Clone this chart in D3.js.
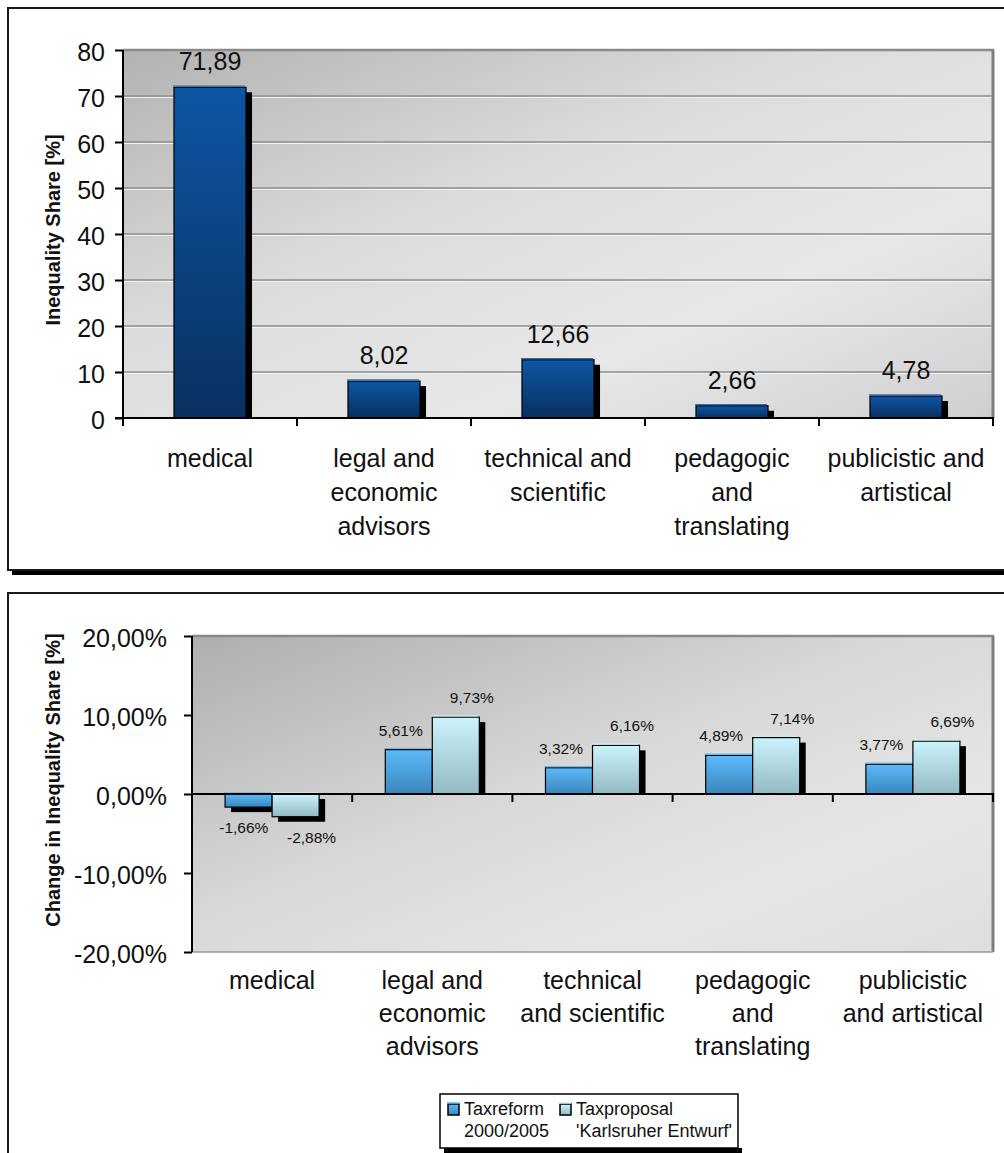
<!DOCTYPE html>
<html><head><meta charset="utf-8">
<script src="https://cdn.jsdelivr.net/npm/d3@7"></script>
<style>body{margin:0;background:#fff}svg{display:block;font-family:"Liberation Sans",Arial,sans-serif}</style>
</head><body>
<svg id="c" width="1004" height="1153"></svg>
<script>
// ---------- data ----------
const categories = ["medical","legal and economic advisors","technical and scientific","pedagogic and translating","publicistic and artistical"];
const topLabelLines = [["medical"],["legal and","economic","advisors"],["technical and","scientific"],["pedagogic","and","translating"],["publicistic and","artistical"]];
const bottomLabelLines = [["medical"],["legal and","economic","advisors"],["technical","and scientific"],["pedagogic","and","translating"],["publicistic","and artistical"]];
const inequalityShare = [71.89, 8.02, 12.66, 2.66, 4.78];
const seriesNames = ["Taxreform", "Taxproposal"];
const seriesNames2 = ["2000/2005", "'Karlsruher Entwurf'"];
const taxreform = [-1.66, 5.61, 3.32, 4.89, 3.77];
const taxproposal = [-2.88, 9.73, 6.16, 7.14, 6.69];
const topTicks = [0,10,20,30,40,50,60,70,80];
const bottomTicks = [-20,-10,0,10,20];
const topTitle = "Inequality Share [%]";
const bottomTitle = "Change in Inequality Share [%]";

const svg = d3.select("#c");
const defs = svg.append("defs");
function vgrad(id, c1, c2){
  const g = defs.append("linearGradient").attr("id",id).attr("x1",0).attr("y1",0).attr("x2",0).attr("y2",1);
  g.append("stop").attr("offset","0%").attr("stop-color",c1);
  g.append("stop").attr("offset","100%").attr("stop-color",c2);
}
vgrad("gTop","#0d56a3","#093060");
vgrad("gBlue","#5cbaf8","#3b86bd");
vgrad("gTeal","#ccf3fc","#93b9c1");
function bg(id, stops){
  const g = defs.append("linearGradient").attr("id",id).attr("x1",0).attr("y1",0).attr("x2",1).attr("y2",1);
  stops.forEach(s=>g.append("stop").attr("offset",s[0]).attr("stop-color",s[1]));
}
bg("bgTop",[["0%","#b2b2b2"],["40%","#dcdcdc"],["70%","#e8e8e8"],["100%","#cfcfcf"]]);
bg("bgBot",[["0%","#aeaeae"],["45%","#d8d8d8"],["75%","#e6e6e6"],["100%","#dedede"]]);

const loc = d3.formatLocale({decimal:",", thousands:".", grouping:[3], currency:["","€"], minus:"-"});
const f2 = loc.format(".2f");
const fmtTop = d => f2(d);
const fmtPct = d => f2(d) + "%";

// ---------- frames ----------
svg.append("rect").attr("x",12).attr("y",571).attr("width",1000).attr("height",4).attr("fill","#000");
svg.append("rect").attr("x",8).attr("y",8).attr("width",1010).attr("height",562).attr("fill","#fff").attr("stroke","#1a1a1a").attr("stroke-width",2);
svg.append("rect").attr("x",8).attr("y",593).attr("width",1010).attr("height",600).attr("fill","#fff").attr("stroke","#1a1a1a").attr("stroke-width",2);

// ---------- TOP CHART ----------
{
  const L=123,R=993,T=50,B=418;
  const y = d3.scaleLinear().domain([0,80]).range([B,T]);
  const xCat = d3.scaleBand().domain(categories).range([L,R]);
  const xBar = d3.scaleBand().domain(categories).range([L,R]).paddingInner(0.586).paddingOuter(0.293);
  const g = svg.append("g");
  g.append("rect").attr("x",L).attr("y",T).attr("width",R-L).attr("height",B-T).attr("fill","url(#bgTop)");
  g.selectAll(".gl").data(topTicks.filter(d=>d>0)).join("line")
    .attr("x1",L).attr("x2",R).attr("y1",d=>y(d)).attr("y2",d=>y(d)).attr("stroke","#8e8e8e").attr("stroke-width",1.5);
  g.selectAll(".gl2").data(topTicks.filter(d=>d>0&&d<80)).join("line")
    .attr("x1",L).attr("x2",R).attr("y1",d=>y(d)+1.5).attr("y2",d=>y(d)+1.5).attr("stroke","#f2f2f2").attr("stroke-width",1);
  g.append("line").attr("x1",L).attr("x2",R+1).attr("y1",T).attr("y2",T).attr("stroke","#8a8a8a").attr("stroke-width",2.5);
  g.append("line").attr("x1",R).attr("x2",R).attr("y1",T).attr("y2",B).attr("stroke","#7e7e7e").attr("stroke-width",3);
  const dx=6, dy=5;
  g.selectAll(".sh").data(inequalityShare).join("rect")
    .attr("x",(d,i)=>xBar(categories[i])+dx).attr("y",d=>y(d)+dy)
    .attr("width",xBar.bandwidth()).attr("height",d=>y(0)-y(d)-dy).attr("fill","#000");
  g.selectAll(".bar").data(inequalityShare).join("rect")
    .attr("x",(d,i)=>xBar(categories[i])).attr("y",d=>y(d))
    .attr("width",xBar.bandwidth()).attr("height",d=>y(0)-y(d))
    .attr("fill","url(#gTop)").attr("stroke","#000").attr("stroke-width",1.2);
  g.selectAll(".hl").data(inequalityShare).join("line")
    .attr("x1",(d,i)=>xBar(categories[i])-1).attr("x2",(d,i)=>xBar(categories[i])+xBar.bandwidth()-1)
    .attr("y1",d=>y(d)-1.2).attr("y2",d=>y(d)-1.2).attr("stroke","#2a6fc0").attr("stroke-width",1.2);
  g.selectAll(".vl").data(inequalityShare).join("text")
    .attr("x",(d,i)=>xBar(categories[i])+xBar.bandwidth()/2).attr("y",d=>y(d)-17)
    .attr("text-anchor","middle").attr("font-size",25).attr("fill","#111").text(fmtTop);
  const ya = d3.axisLeft(y).tickValues(topTicks).tickSize(8).tickFormat(d=>d);
  const yg = g.append("g").attr("transform",`translate(${L},0)`).call(ya);
  yg.select(".domain").attr("stroke","#000").attr("stroke-width",2).attr("d",`M0,${T}V${B}`);
  yg.selectAll(".tick line").attr("stroke","#000").attr("stroke-width",2);
  yg.selectAll(".tick text").attr("font-size",25).attr("fill","#111").attr("x",-18).attr("dy",null).attr("y",10.5).attr("font-family","Liberation Sans, Arial");
  g.append("line").attr("x1",L-8).attr("x2",R+1).attr("y1",B).attr("y2",B).attr("stroke","#000").attr("stroke-width",2);
  const tickXs = categories.map(c=>xCat(c)).concat([R]);
  g.selectAll(".xt").data(tickXs).join("line").attr("x1",d=>d).attr("x2",d=>d).attr("y1",B).attr("y2",B+8).attr("stroke","#000").attr("stroke-width",2);
  categories.forEach((c,i)=>{
    const t = g.append("text").attr("text-anchor","middle").attr("font-size",25).attr("fill","#111");
    topLabelLines[i].forEach((ln,j)=>t.append("tspan").attr("x",xCat(c)+xCat.bandwidth()/2).attr("y",467+j*34).text(ln));
  });
  g.append("text").attr("transform",`translate(60,230) rotate(-90)`).attr("text-anchor","middle")
    .attr("font-size",20).attr("font-weight","bold").attr("fill","#111").text(topTitle);
}

// ---------- BOTTOM CHART ----------
{
  const L=192,R=993,T=636,B=952;
  const y = d3.scaleLinear().domain([-20,20]).range([B,T]);
  const xCat = d3.scaleBand().domain(categories).range([L,R]);
  const xGrp = d3.scaleBand().domain(categories).range([L,R]).paddingInner(0.413).paddingOuter(0.2065);
  const xSer = d3.scaleBand().domain([0,1]).range([0,xGrp.bandwidth()]);
  const g = svg.append("g");
  g.append("rect").attr("x",L).attr("y",T).attr("width",R-L).attr("height",B-T).attr("fill","url(#bgBot)");
  g.append("line").attr("x1",L).attr("x2",R+1).attr("y1",T).attr("y2",T).attr("stroke","#8a8a8a").attr("stroke-width",2.5);
  g.append("line").attr("x1",R).attr("x2",R).attr("y1",T).attr("y2",B).attr("stroke","#7e7e7e").attr("stroke-width",3);
  g.append("line").attr("x1",L).attr("x2",R).attr("y1",B).attr("y2",B).attr("stroke","#9a9a9a").attr("stroke-width",1.5);

  const data = [];
  categories.forEach((c,i)=>{
    data.push({c, s:0, v:taxreform[i]});
    data.push({c, s:1, v:taxproposal[i]});
  });
  const fills = ["url(#gBlue)","url(#gTeal)"];
  const hls = ["#5cbaf8","#c6eef8"];
  const dx=6, dy=5;
  const bx = d => xGrp(d.c)+xSer(d.s);
  const bw = xSer.bandwidth();
  [0,1].forEach(s=>{
    const ds = data.filter(d=>d.s===s);
    g.selectAll(".sh"+s).data(ds).join("rect")
      .attr("x",d=>bx(d)+dx)
      .attr("y",d=>d.v>=0 ? y(d.v)+dy : y(0)+dy)
      .attr("width",bw)
      .attr("height",d=>d.v>=0 ? y(0)-y(d.v)-dy : y(d.v)-y(0))
      .attr("fill","#000");
    g.selectAll(".bar"+s).data(ds).join("rect")
      .attr("x",bx).attr("y",d=>Math.min(y(d.v),y(0)))
      .attr("width",bw).attr("height",d=>Math.abs(y(d.v)-y(0)))
      .attr("fill",fills[s]).attr("stroke","#000").attr("stroke-width",1.2);
    g.selectAll(".hl"+s).data(ds).join("line")
      .attr("x1",d=>bx(d)-1).attr("x2",d=>bx(d)+bw-1)
      .attr("y1",d=>Math.min(y(d.v),y(0))-1.2).attr("y2",d=>Math.min(y(d.v),y(0))-1.2)
      .attr("stroke",hls[s]).attr("stroke-width",1.2);
  });
  const labelDx = [-8, 16];
  g.selectAll(".vl").data(data).join("text")
    .attr("x",d=>bx(d)+bw/2+labelDx[d.s]*(d.v>=0?1:(d.s===0?0.6:1)))
    .attr("y",d=>d.v>=0 ? y(d.v)-14 : y(d.v)+26)
    .attr("text-anchor","middle").attr("font-size",15.5).attr("fill","#111").text(d=>fmtPct(d.v));
  const ya = d3.axisLeft(y).tickValues(bottomTicks).tickSize(8).tickFormat(fmtPct);
  const yg = g.append("g").attr("transform",`translate(${L},0)`).call(ya);
  yg.select(".domain").attr("stroke","#000").attr("stroke-width",2).attr("d",`M0,${T}V${B}`);
  yg.selectAll(".tick line").attr("stroke","#000").attr("stroke-width",2);
  yg.selectAll(".tick text").attr("font-size",25).attr("fill","#111").attr("x",-25).attr("dy",null).attr("y",10.5).attr("font-family","Liberation Sans, Arial");
  g.append("line").attr("x1",L).attr("x2",R+1).attr("y1",y(0)).attr("y2",y(0)).attr("stroke","#000").attr("stroke-width",2);
  const tickXs = categories.map(c=>xCat(c)).concat([R]).slice(1);
  g.selectAll(".xt").data(tickXs).join("line").attr("x1",d=>d).attr("x2",d=>d).attr("y1",y(0)).attr("y2",y(0)+8).attr("stroke","#000").attr("stroke-width",2);
  categories.forEach((c,i)=>{
    const t = g.append("text").attr("text-anchor","middle").attr("font-size",25).attr("fill","#111");
    bottomLabelLines[i].forEach((ln,j)=>t.append("tspan").attr("x",xCat(c)+xCat.bandwidth()/2).attr("y",989+j*33).text(ln));
  });
  g.append("text").attr("transform",`translate(60,780) rotate(-90)`).attr("text-anchor","middle")
    .attr("font-size",20).attr("font-weight","bold").attr("fill","#111").text(bottomTitle);

  const lx=440, ly=1094, lw=298, lh=54;
  g.append("rect").attr("x",lx+4).attr("y",ly+lh).attr("width",lw).attr("height",5).attr("fill","#000");
  g.append("rect").attr("x",lx).attr("y",ly).attr("width",lw).attr("height",lh).attr("fill","#fff").attr("stroke","#000").attr("stroke-width",1.5);
  const itemX = [447, 559];
  [0,1].forEach(s=>{
    g.append("rect").attr("x",itemX[s]+1).attr("y",ly+10).attr("width",11).attr("height",11).attr("fill",fills[s]).attr("stroke","#000").attr("stroke-width",1.5);
    g.append("line").attr("x1",itemX[s]).attr("x2",itemX[s]+12).attr("y1",ly+9).attr("y2",ly+9).attr("stroke",hls[s]).attr("stroke-width",1.5);
    const t = g.append("text").attr("font-size",18).attr("fill","#111");
    t.append("tspan").attr("x",itemX[s]+17).attr("y",ly+21).text(seriesNames[s]);
    t.append("tspan").attr("x",itemX[s]+17).attr("y",ly+43).text(seriesNames2[s]);
  });
}
</script>
</body></html>
